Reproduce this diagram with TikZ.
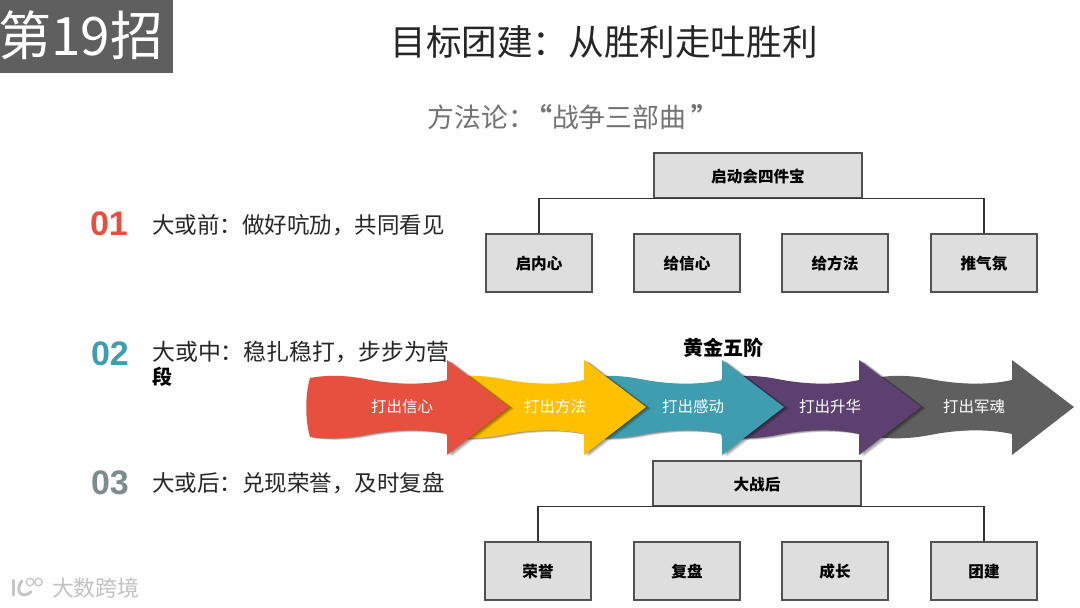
\documentclass[tikz,border=0pt]{standalone}
\usepackage{fontspec}
\setmainfont{Noto Sans CJK SC}
\usepackage{tikz}
\usetikzlibrary{positioning}

\definecolor{pagewhite}{HTML}{FDFEFD}
\definecolor{tagbox}{HTML}{5F5F5F}
\definecolor{stagered}{HTML}{E74F3F}
\definecolor{stageyellow}{HTML}{FFC000}
\definecolor{stageteal}{HTML}{3E9DAF}
\definecolor{stagepurple}{HTML}{5C4170}
\definecolor{stagegrey}{HTML}{5F5F5F}
\definecolor{numgrey}{HTML}{7F8C8D}
\definecolor{boxfill}{HTML}{DEDEDE}
\definecolor{boxline}{HTML}{505050}

\newfontfamily\numfont{Liberation Sans}
% full-width punctuation
\newcommand{\wcolon}{\symbol{"FF1A}}
\newcommand{\wcomma}{\symbol{"FF0C}}

\tikzset{
  sizedtext/.style={font=\fontsize{#1}{#1}\selectfont, inner sep=0pt},
  leadnum/.style={font=\fontsize{34}{34}\selectfont\numfont\bfseries, inner sep=0pt},
  phaseline/.style={sizedtext=#1, text=black!85, anchor=west},
  planbox/.style={draw=boxline, line width=1.2pt, fill=boxfill, minimum width=106pt, minimum height=58pt,
    inner sep=0pt, text height=16pt, text depth=2.2pt, font=\fontsize{15.6}{15.6}\selectfont\bfseries},
  rootbox/.style={planbox, minimum width=208pt, minimum height=45pt},
  treeline/.style={draw=black!80, line width=1.4pt},
  stagetext/.style={sizedtext=15.5, text=white},
  markline/.style={draw=black!22, line cap=round},
}

% outline of one wavy arrow
\newcommand{\stagepath}{
  (310,378) .. controls (325,375) and (345,375) .. (365,379)
    .. controls (395,385) and (425,385) .. (447,380) -- (447,360) -- (509,407) -- (447,455) -- (447,434)
    .. controls (425,429) and (395,429) .. (365,435) .. controls (345,439) and (325,439) .. (310,437)
    .. controls (305,420) and (305,395) .. (310,378) -- cycle
}
% #1 = x offset, #2 = colour
\newcommand{\stagearrow}[2]{
  \fill[#2, xshift=#1pt] \stagepath;
}
% same arrow with a soft shadow to its right
\newcommand{\shadedarrow}[2]{
  \foreach \d in {1,2,3,4,5} {
    \fill[black, opacity=0.1, xshift=#1pt+\d pt, yshift=-0.3*\d pt] \stagepath;
  }
  \stagearrow{#1}{#2}
}

\begin{document}
\begin{tikzpicture}[x=1pt,y=-1pt]
  \useasboundingbox (0,0) rectangle (1080,608);
  \fill[pagewhite] (0,0) rectangle (1080,608);

  % 1. Corner tag and titles
  \fill[tagbox] (0,0) rectangle (173,73);
  \node[sizedtext=53, text=white] (tag) at (81,35) {第19招};
  \node[sizedtext=35.6, text=black!85] (title) at (604,42) {目标团建\wcolon{}从胜利走吐胜利};
  \node[sizedtext=26.8, text=black!55] (subtitle) at (567,117) {方法论\wcolon{}\makebox[17pt][r]{\bfseries “}战争三部曲\makebox[20pt][l]{\hspace{5pt}\bfseries ”}};

  % 2. Left column
  \node[leadnum, text=stagered] (numA) at (109,224) {01};
  \node[leadnum, text=stageteal] (numB) at (110,354) {02};
  \node[leadnum, text=numgrey] (numC) at (110,483) {03};
  \node[phaseline=22.5] (lineA) at (152,225) {大或前\wcolon{}做好吭劢\wcomma{}共同看见};
  \node[phaseline=22.9] (lineB) at (152,352) {大或中\wcolon{}稳扎稳打\wcomma{}步步为营};
  \node[anchor=west, inner sep=0pt, font=\fontsize{20}{20}\selectfont\bfseries] (lineBb) at (152,377) {段};
  \node[phaseline=22.5] (lineC) at (152,483) {大或后\wcolon{}兑现荣誉\wcomma{}及时复盘};

  % 3. Upper tree
  \node[rootbox] (kickoff) at (758,175.5) {启动会四件宝};
  \node[planbox] (kickA) at (539,263) {启内心};
  \node[planbox] (kickB) at (687,263) {给信心};
  \node[planbox] (kickC) at (835,263) {给方法};
  \node[planbox] (kickD) at (984,263) {推气氛};
  \draw[treeline] (kickoff.south) -| (kickA.north);
  \draw[treeline] (kickoff.south) -| (kickD.north);

  % 4. Lower tree
  \node[rootbox] (afterwar) at (757,483.5) {大战后};
  \node[planbox] (afterA) at (538,571) {荣誉};
  \node[planbox] (afterB) at (687,571) {复盘};
  \node[planbox] (afterC) at (835,571) {成长};
  \node[planbox] (afterD) at (984,571) {团建};
  \draw[treeline] (afterwar.south) -| (afterA.north);
  \draw[treeline] (afterwar.south) -| (afterD.north);

  % 5. Arrows, last one first so the red lies on top
  \stagearrow{565}{stagegrey}
  \shadedarrow{412}{stagepurple}
  \shadedarrow{275}{stageteal}
  \shadedarrow{137}{stageyellow}
  \shadedarrow{0}{stagered}
  \node[stagetext] (stageA) at (402,407) {打出信心};
  \node[stagetext] (stageB) at (555,407) {打出方法};
  \node[stagetext] (stageC) at (693,407) {打出感动};
  \node[stagetext] (stageD) at (830,407) {打出升华};
  \node[stagetext] (stageE) at (974,407) {打出军魂};
  \node[font=\fontsize{20}{20}\selectfont\bfseries, inner sep=0pt] (stagehead) at (723,348) {黄金五阶};

  % 6. Watermark
  \draw[markline, line width=3pt] (13,580) -- (13,595);
  \draw[markline, line width=3pt] (22,581) .. controls (15,589) and (20,600) .. (31,592);
  \draw[markline, line width=1.3pt] (30,582) circle (3.8);
  \draw[markline, line width=1.3pt] (38.5,582) circle (3.8);
  \node[sizedtext=22, text=black!24] (mark) at (96,588) {大数跨境};
\end{tikzpicture}
\end{document}
